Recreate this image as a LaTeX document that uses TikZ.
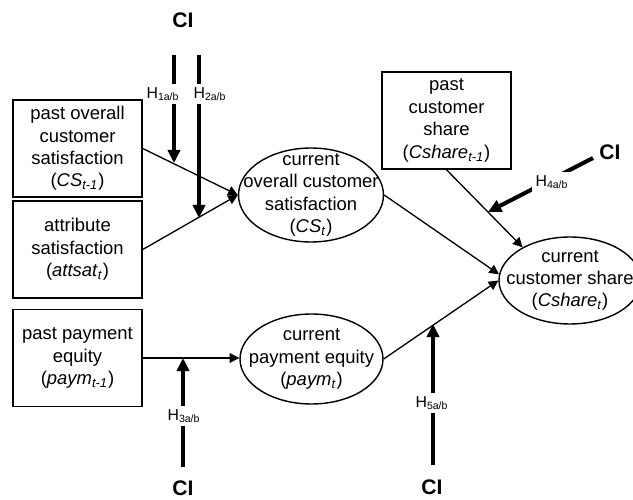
\documentclass[tikz,border=0pt]{standalone}
\usepackage{fontspec}
\setmainfont{Liberation Sans}
\usetikzlibrary{arrows.meta,shapes.geometric}

\begin{document}
\begin{tikzpicture}[
    x=0.02cm, y=-0.02cm,
    every node/.style={font=\fontsize{10.5}{12.75}\selectfont},
    box/.style={rectangle, draw, line width=0.85pt, minimum width=2.58cm,
        minimum height=1.94cm, align=center, inner sep=0pt},
    construct/.style={ellipse, draw, line width=0.8pt, inner sep=0pt},
    link/.style={-{Triangle[length=5.5pt,width=5.5pt]}, line width=0.75pt},
    hyp/.style={-{Triangle[length=7.5pt,width=7pt]}, line width=2.3pt},
    hlabel/.style={fill=white, inner sep=2pt, font=\fontsize{9}{10}\selectfont},
    ci/.style={font=\fontsize{12}{14}\selectfont\bfseries},
]
\clip (0,0) rectangle (633,500);

% Past values (boxes)
\node[box] (pastcs) at (77.5,148.5) {past overall\\customer\\satisfaction\\(\textit{CS}\textsubscript{\textit{t-1}})};
\node[box] (attsat) at (77.5,249.5) {attribute\\satisfaction\\(\textit{attsat}\textsubscript{\textit{t}})};
\node[box] (pastpaym) at (77.5,358) {past payment\\equity\\(\textit{paym}\textsubscript{\textit{t-1}})};
\node[box] (pastshare) at (446.5,120.5) {past\\customer\\share\\(\textit{Cshare}\textsubscript{\textit{t-1}})};

% Current values (ellipses)
\node[construct, minimum width=2.9cm, minimum height=1.88cm] (cs) at (311,195) {};
\node[align=center] (cstext) at (cs) {current\\overall customer\\satisfaction\\(\textit{CS}\textsubscript{\textit{t}})};
\node[construct, minimum width=2.86cm, minimum height=1.8cm] (paym) at (311.5,359) {};
\node[align=center] (paymtext) at (paym) {current\\payment equity\\(\textit{paym}\textsubscript{\textit{t}})};
\node[construct, minimum width=2.84cm, minimum height=1.74cm] (share) at (570,280.5) {};
\node[align=center] (sharetext) at (share) {current\\customer share\\(\textit{Cshare}\textsubscript{\textit{t}})};

% Main paths
\draw[link] (pastcs.east) -- (cs.west);
\draw[link] (attsat.east) -- (cs.west);
\draw[link] (pastpaym.east) -- (pastpaym.east -| paym.west);
\draw[link] (cs.east) -- (share.175);
\draw[link] (paym.east) -- (share.west);
\draw[link] (pastshare.south) -- (share.145);

% Moderating CI
\node[ci] (ci1) at (183,20) {CI};
\node[ci] (ci4) at (610,152) {CI};
\node[ci] (ci3) at (183,488) {CI};
\node[ci] (ci5) at (432,487) {CI};

\coordinate (h1s) at (174,55);  \coordinate (h1t) at (174,163);
\coordinate (h2s) at (199,55);  \coordinate (h2t) at (199,218);
\coordinate (h3s) at (183,467); \coordinate (h3t) at (183,358);
\coordinate (h4s) at (593,158); \coordinate (h4t) at (488,212);
\coordinate (h5s) at (433,465); \coordinate (h5t) at (433,324);

\draw[hyp] (h1s) -- (h1t);
\draw[hyp] (h2s) -- (h2t);
\draw[hyp] (h3s) -- (h3t);
\draw[hyp] (h4s) -- (h4t);
\draw[hyp] (h5s) -- (h5t);

\node[hlabel] (lh1) at (163,94) {H\textsubscript{1a/b}};
\node[hlabel] (lh2) at (210,94) {H\textsubscript{2a/b}};
\node[hlabel] (lh3) at (184,416) {H\textsubscript{3a/b}};
\node[hlabel] (lh4) at (552,182) {H\textsubscript{4a/b}};
\node[hlabel] (lh5) at (432,403) {H\textsubscript{5a/b}};
\end{tikzpicture}
\end{document}
